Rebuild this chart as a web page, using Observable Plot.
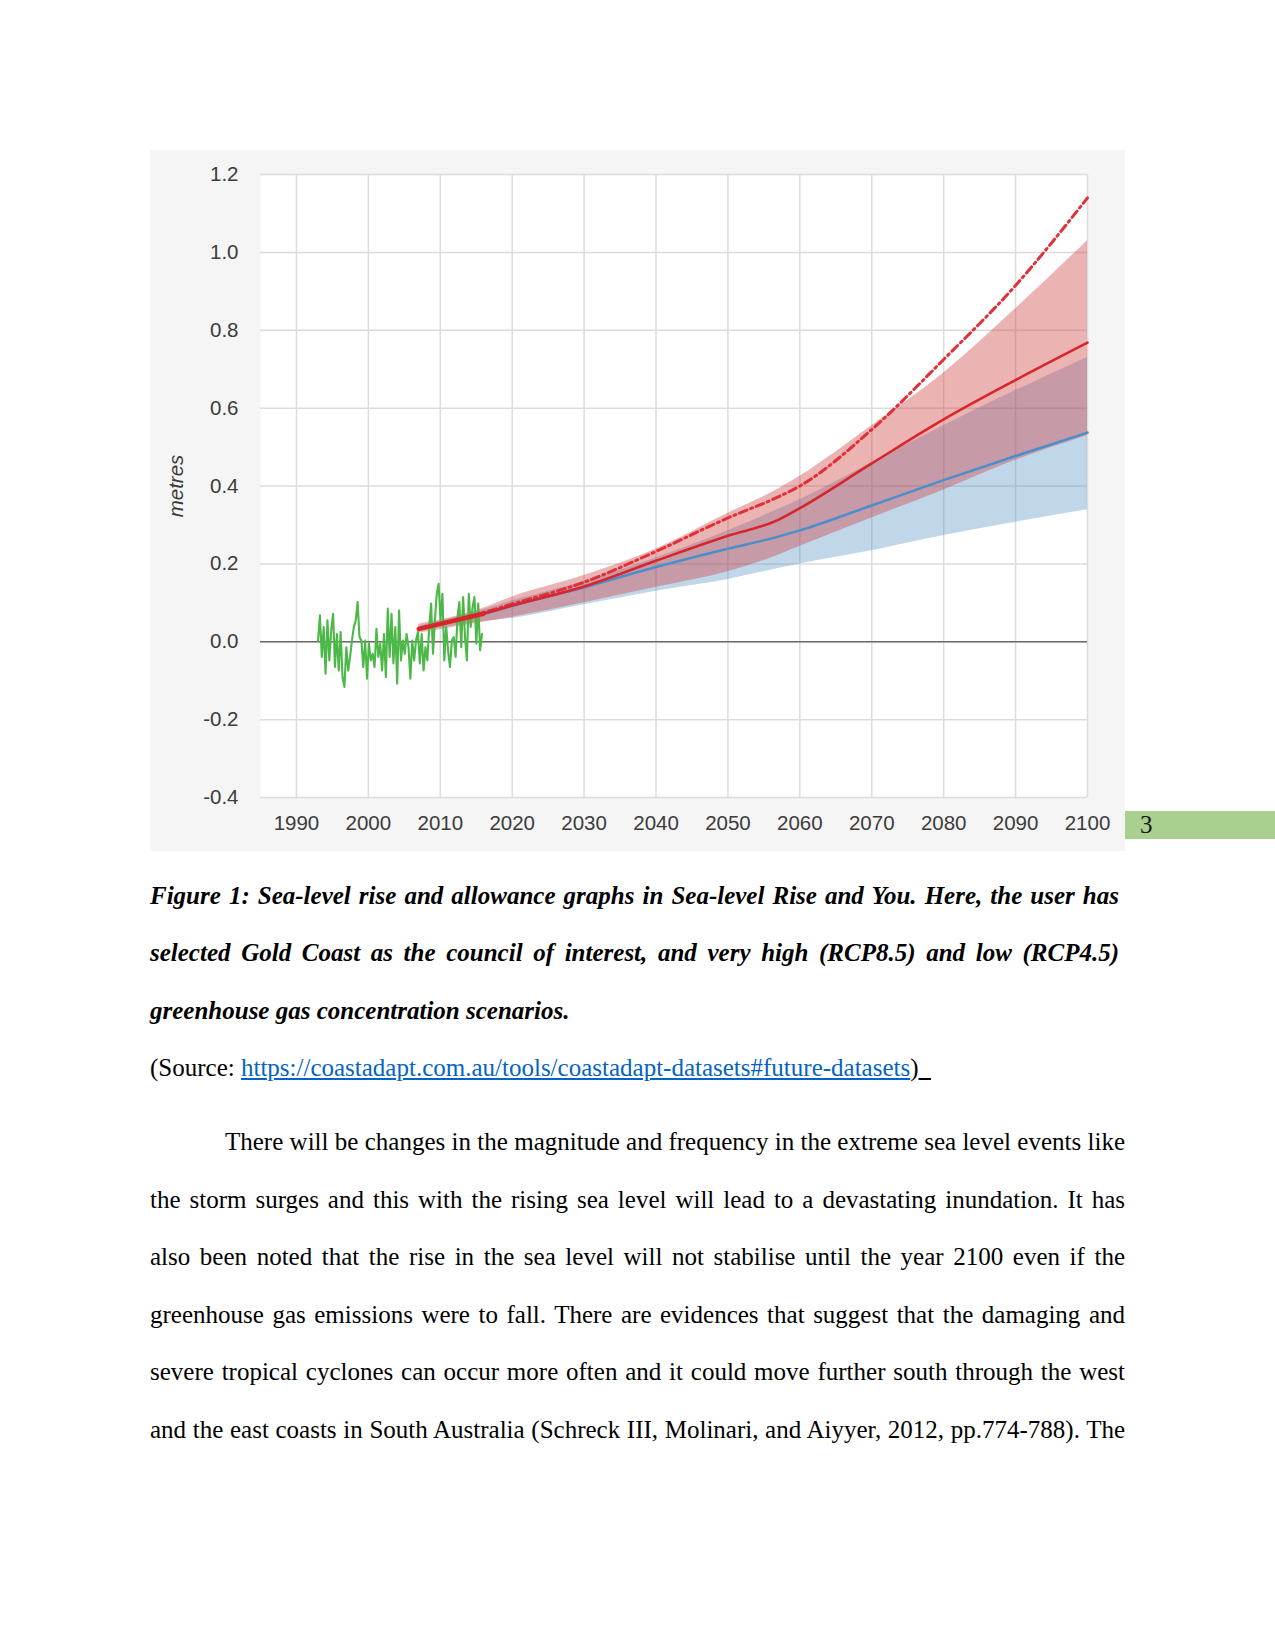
<!DOCTYPE html>
<html>
<head>
<meta charset="utf-8">
<script src="https://cdn.jsdelivr.net/npm/d3@7"></script>
<script src="https://cdn.jsdelivr.net/npm/@observablehq/plot@0.6"></script>
<style>
  html, body { margin: 0; padding: 0; background: #fff; }
  #page { position: relative; width: 1275px; height: 1651px; background: #fff; overflow: hidden; }
  #chart { position: absolute; left: 150px; top: 150px; width: 975px; height: 701px; background: #f5f5f5; }
  .ln { position: absolute; left: 150px; width: 975px; font-family: "Liberation Serif", "Times New Roman", serif; font-size: 25px; line-height: 30px; height: 30px; white-space: nowrap; color: #000; }
  .just { text-align: justify; text-align-last: justify; white-space: normal; }
  .cap { font-weight: bold; font-style: italic; width: 969px; }
  a { color: #0563c1; text-decoration: underline; }
  #pg { position: absolute; left: 1125px; top: 811px; width: 150px; height: 28px; background: #a9d08e; }
  #pgn { position: absolute; left: 15px; top: -1px; font-family: "Liberation Serif", serif; font-size: 25px; line-height: 30px; color: #1a1a1a; }
</style>
</head>
<body>
<div id="page">
  <div id="chart"></div>
  <div id="pg"><span id="pgn">3</span></div>

  <div class="ln cap just" style="top:881px">Figure 1: Sea-level rise and allowance graphs in Sea-level Rise and You. Here, the user has</div>
  <div class="ln cap just" style="top:938px">selected Gold Coast as the council of interest, and very high (RCP8.5) and low (RCP4.5)</div>
  <div class="ln cap" style="top:996px">greenhouse gas concentration scenarios.</div>
  <div class="ln" style="top:1053px">(Source: <a>https://coastadapt.com.au/tools/coastadapt-datasets#future-datasets</a>)<span style="text-decoration:underline">&nbsp;&nbsp;</span></div>

  <div class="ln just" style="top:1127px; left:225px; width:900px">There will be changes in the magnitude and frequency in the extreme sea level events like</div>
  <div class="ln just" style="top:1184.5px">the storm surges and this with the rising sea level will lead to a devastating inundation. It has</div>
  <div class="ln just" style="top:1242px">also been noted that the rise in the sea level will not stabilise until the year 2100 even if the</div>
  <div class="ln just" style="top:1299.5px">greenhouse gas emissions were to fall. There are evidences that suggest that the damaging and</div>
  <div class="ln just" style="top:1357px">severe tropical cyclones can occur more often and it could move further south through the west</div>
  <div class="ln just" style="top:1414.5px">and the east coasts in South Australia (Schreck III, Molinari, and Aiyyer, 2012, pp.774-788). The</div>
</div>
<script>
// ---- Data ----
const xTicks = [1990, 2000, 2010, 2020, 2030, 2040, 2050, 2060, 2070, 2080, 2090, 2100];
const yTicks = [-0.4, -0.2, 0.0, 0.2, 0.4, 0.6, 0.8, 1.0, 1.2];

// Observed (green) sea level anomaly, 1993.0 – 2015.8
const greenStart = 1993.0, greenEnd = 2015.8;
const greenValues = [0.003,0.068,-0.039,0.038,-0.082,0.055,-0.048,0.029,0.072,-0.065,0.020,-0.074,0.025,-0.091,-0.116,-0.014,-0.074,-0.039,0.003,0.038,0.055,0.102,0.012,0.003,-0.065,0.003,-0.095,-0.005,-0.048,-0.031,-0.065,0.033,-0.039,-0.005,-0.074,0.020,-0.091,0.085,-0.039,0.072,-0.056,0.038,-0.108,0.080,-0.048,0.003,-0.031,0.020,-0.014,-0.095,0.003,-0.048,0.003,0.025,-0.056,0.020,-0.074,-0.014,-0.048,0.038,0.098,-0.031,0.055,0.123,0.149,0.055,0.123,-0.048,0.038,-0.022,-0.065,0.003,0.012,-0.039,0.063,0.102,-0.014,0.115,0.012,-0.048,0.123,0.038,0.089,0.115,-0.005,0.098,-0.022,0.020];

// Projection years
const projYears   = [2007, 2016, 2020, 2030, 2040, 2050, 2057, 2060, 2070, 2080, 2090, 2100];
// RCP8.5 (red)
const rcp85Median = [0.033, 0.072, 0.093, 0.142, 0.208, 0.272, 0.313, 0.343, 0.458, 0.571, 0.672, 0.768];
const rcp85Low    = [0.022, 0.050, 0.063, 0.100, 0.140, 0.180, 0.222, 0.245, 0.318, 0.390, 0.466, 0.530];
const rcp85High   = [0.045, 0.086, 0.115, 0.170, 0.238, 0.330, 0.392, 0.425, 0.555, 0.690, 0.855, 1.030];
// RCP4.5 (blue)
const rcp45Median = [0.033, 0.071, 0.092, 0.140, 0.192, 0.239, 0.270, 0.286, 0.350, 0.415, 0.477, 0.537];
const rcp45Low    = [0.025, 0.052, 0.060, 0.095, 0.130, 0.160, 0.188, 0.200, 0.234, 0.273, 0.307, 0.339];
const rcp45High   = [0.040, 0.082, 0.105, 0.155, 0.215, 0.285, 0.340, 0.365, 0.460, 0.555, 0.645, 0.730];
// High-end allowance (red dash-dot)
const highEnd     = [0.033, 0.075, 0.097, 0.153, 0.232, 0.318, 0.372, 0.400, 0.545, 0.725, 0.915, 1.140];
// Last year of the observed-period trend segment (thicker red)
const trendEnd = 2016;

// ---- Tables ----
const green = greenValues.map((v, i) => ({year: greenStart + i * (greenEnd - greenStart) / (greenValues.length - 1), v}));
const proj = projYears.map((year, i) => ({
  year,
  r: rcp85Median[i], rLo: rcp85Low[i], rHi: rcp85High[i],
  b: rcp45Median[i], bLo: rcp45Low[i], bHi: rcp45High[i],
  h: highEnd[i]
}));
const trend = proj.filter(d => d.year <= trendEnd);

const curve = "monotone-x";
const chart = Plot.plot({
  width: 975,
  height: 701,
  marginLeft: 110,
  marginRight: 38,
  marginTop: 24,
  marginBottom: 54,
  style: {background: "#f5f5f5", fontFamily: "'Liberation Sans', Arial, sans-serif", fontSize: "20.5px", color: "#3c3c3c"},
  x: {domain: [1985, 2100]},
  y: {domain: [-0.4, 1.2]},
  marks: [
    Plot.frame({fill: "white", stroke: "none"}),
    Plot.gridX(xTicks, {stroke: "#dcdcdc", strokeOpacity: 1, strokeWidth: 1.5}),
    Plot.gridY(yTicks, {stroke: "#dcdcdc", strokeOpacity: 1, strokeWidth: 1.5}),
    Plot.ruleY([0], {stroke: "#6a6a6a", strokeWidth: 1.6}),
    Plot.areaY(proj, {x: "year", y1: "bLo", y2: "bHi", fill: "#4a8ac0", fillOpacity: 0.35, curve}),
    Plot.areaY(proj, {x: "year", y1: "rLo", y2: "rHi", fill: "#d04040", fillOpacity: 0.4, curve}),
    Plot.line(green, {x: "year", y: "v", stroke: "#4cb847", strokeWidth: 2.1}),
    Plot.line(proj, {x: "year", y: "b", stroke: "#4a8fcc", strokeWidth: 2.5, curve}),
    Plot.line(proj, {x: "year", y: "h", stroke: "#e0303a", strokeWidth: 3, strokeDasharray: "8,4,2,4", curve}),
    Plot.line(proj, {x: "year", y: "r", stroke: "#d9262b", strokeWidth: 2.6, curve}),
    Plot.line(trend, {x: "year", y: "r", stroke: "#d9262b", strokeWidth: 4.5, curve}),
    Plot.axisX(xTicks, {tickSize: 0, tickPadding: 18, tickFormat: d => String(d), label: null}),
    Plot.axisY(yTicks, {tickSize: 0, tickPadding: 22, tickFormat: d => d.toFixed(1), label: null}),
    Plot.text(["metres"], {frameAnchor: "left", textAnchor: "middle", dx: -84, rotate: -90, fontStyle: "italic", fill: "#3c3c3c", fontSize: 20.5})
  ]
});
document.getElementById("chart").appendChild(chart);
</script>
</body>
</html>
